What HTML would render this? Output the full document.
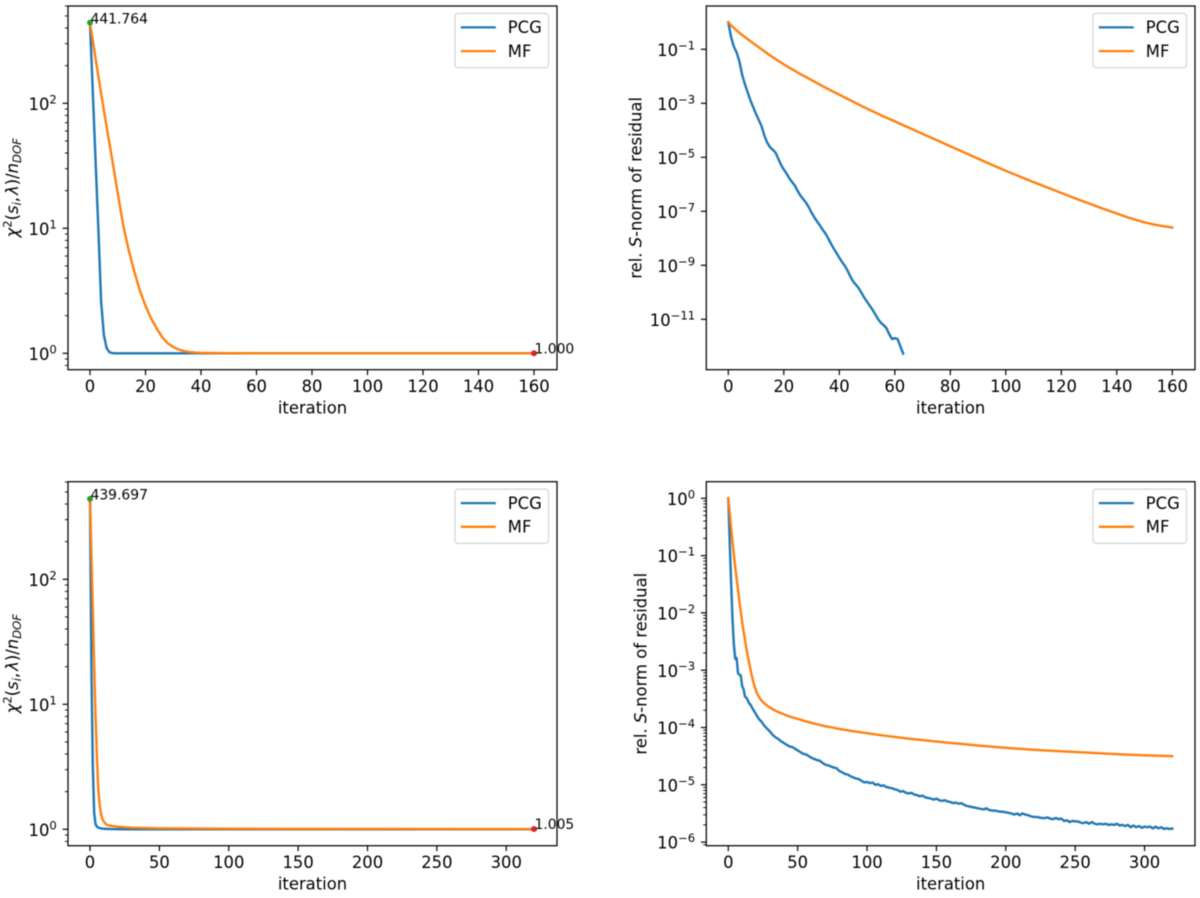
<!DOCTYPE html>
<html lang="en">
<head>
<meta charset="utf-8">
<title>Convergence charts</title>
<style>
html,body{margin:0;padding:0;background:#fff;width:1200px;height:898px;overflow:hidden}
svg{display:block;position:absolute;left:0;top:0;filter:blur(0.45px)}
text{font-family:"DejaVu Sans","Liberation Sans",sans-serif;fill:#000}
</style>
</head>
<body>
<svg id="figure" xmlns="http://www.w3.org/2000/svg" width="1200" height="898" viewBox="0 0 1200 898"></svg>
<script>
// Panel A (top left): chi-square per degree of freedom
const aTicksX = [0,20,40,60,80,100,120,140,160];
const aTicksLog = [0,1,2];
const aPcgIter = [0,1,2,3,4,5,6,7,8,9,10,12,20,40,80,160];
const aPcgChi = [441.764,124,35,10,2.6,1.4,1.1,1.02,1.005,1.001,1.0005,1.0002,1.0001,1,1,1];
const aMfIter = [0,2,4,6,8,10,12,14,16,18,20,22,24,26,28,30,32,34,36,38,40,45,50,60,80,160];
const aMfChi = [441.764,229,120,64.6,35.5,19.05,10.5,6.61,4.47,3.16,2.40,1.905,1.585,1.349,1.202,1.122,1.072,1.040,1.023,1.014,1.009,1.005,1.002,1,1,1];
const aStartValue = [0,441.764];
const aEndValue = [160,1.000];
const aStartLabel = "441.764";
const aEndLabel = "1.000";

// Panel B (top right): log10 of relative S-norm of residual
const bTicksX = [0,20,40,60,80,100,120,140,160];
const bTicksLog = [-1,-3,-5,-7,-9,-11];
const bPcgIter = [0,1,2,3,4,5,6,7,8,9,10,11,12,13,14,15,16,17,18,19,20,21,22,23,24,25,26,27,28,29,30,31,32,33,34,35,36,37,38,39,40,41,42,43,44,45,46,47,48,49,50,51,52,53,54,55,56,57,58,59,60,61,62,63];
const bPcgLog = [0,-0.55,-0.9,-1.12,-1.45,-1.95,-2.3,-2.6,-2.9,-3.15,-3.4,-3.62,-3.85,-4.2,-4.45,-4.62,-4.72,-4.82,-5.05,-5.28,-5.45,-5.6,-5.78,-5.92,-6.05,-6.25,-6.42,-6.55,-6.68,-6.85,-7.05,-7.22,-7.38,-7.52,-7.68,-7.82,-8.0,-8.2,-8.38,-8.55,-8.72,-8.88,-9.02,-9.2,-9.42,-9.6,-9.72,-9.85,-10.02,-10.2,-10.35,-10.5,-10.65,-10.82,-11,-11.13,-11.22,-11.33,-11.55,-11.73,-11.7,-11.73,-12,-12.27];
const bMfIter = [0,1,2,3,4,5,6,8,10,12,14,16,18,20,22,24,26,28,30,35,40,45,50,55,60,65,70,75,80,85,90,95,100,105,110,115,120,125,130,135,140,145,150,153,156,158,160];
const bMfLog = [0,-0.11,-0.21,-0.3,-0.39,-0.47,-0.55,-0.7,-0.85,-1.0,-1.15,-1.29,-1.43,-1.56,-1.68,-1.8,-1.92,-2.03,-2.14,-2.42,-2.68,-2.94,-3.2,-3.44,-3.67,-3.9,-4.13,-4.36,-4.59,-4.82,-5.05,-5.28,-5.5,-5.71,-5.92,-6.12,-6.32,-6.52,-6.71,-6.9,-7.08,-7.26,-7.41,-7.48,-7.54,-7.57,-7.6];

// Panel C (bottom left): chi-square per degree of freedom
const cTicksX = [0,50,100,150,200,250,300];
const cTicksLog = [0,1,2];
const cPcgIter = [0,1,2,3,4,5,6,8,10,15,20,30,50,320];
const cPcgChi = [439.697,20,3.3,1.35,1.1,1.05,1.03,1.015,1.01,1.004,1.002,1.001,1.0005,1.0];
const cMfIter = [0,1,2,3,4,5,6,7,8,9,10,12,15,20,30,50,100,150,200,320];
const cMfChi = [439.697,160,57,21,8.1,3.7,2.04,1.55,1.32,1.2,1.15,1.085,1.065,1.05,1.03,1.018,1.01,1.008,1.006,1.005];
const cStartValue = [0,439.697];
const cEndValue = [320,1.005];
const cStartLabel = "439.697";
const cEndLabel = "1.005";

// Panel D (bottom right): log10 of relative S-norm of residual
const dTicksX = [0,50,100,150,200,250,300];
const dTicksLog = [0,-1,-2,-3,-4,-5,-6];
const dPcgIter = [0,1,2,3,4,5,6,7,8,9,10,11,12,13,14,15,16,17,18,19,20,22,24,26,28,30,32,34,36,38,40,42,44,46,48,50,52,54,56,58,60,62,64,66,68,70,72,74,76,78,80,82,84,86,88,90,92,94,96,98,100,102,104,106,108,110,112,114,116,118,120,122,124,126,128,130,132,134,136,138,140,142,144,146,148,150,152,154,156,158,160,162,164,166,168,170,172,174,176,178,180,182,184,186,188,190,192,194,196,198,200,202,204,206,208,210,212,214,216,218,220,222,224,226,228,230,232,234,236,238,240,242,244,246,248,250,252,254,256,258,260,262,264,266,268,270,272,274,276,278,280,282,284,286,288,290,292,294,296,298,300,302,304,306,308,310,312,314,316,318,320];
const dPcgLog = [0,-0.75,-1.45,-2.1,-2.55,-2.8,-2.79,-3.05,-3.08,-3.09,-3.28,-3.33,-3.46,-3.48,-3.52,-3.58,-3.6,-3.65,-3.69,-3.73,-3.77,-3.85,-3.9,-3.97,-4.02,-4.07,-4.13,-4.17,-4.2,-4.24,-4.27,-4.3,-4.33,-4.34,-4.37,-4.4,-4.43,-4.46,-4.47,-4.5,-4.53,-4.55,-4.57,-4.58,-4.62,-4.65,-4.66,-4.68,-4.7,-4.71,-4.76,-4.78,-4.81,-4.82,-4.85,-4.87,-4.89,-4.9,-4.93,-4.96,-4.95,-4.97,-4.96,-5.0,-4.99,-5.02,-5.01,-5.04,-5.05,-5.06,-5.08,-5.09,-5.12,-5.11,-5.14,-5.15,-5.14,-5.17,-5.18,-5.2,-5.19,-5.22,-5.23,-5.24,-5.26,-5.24,-5.27,-5.28,-5.27,-5.29,-5.3,-5.32,-5.31,-5.33,-5.32,-5.35,-5.37,-5.38,-5.39,-5.4,-5.41,-5.42,-5.43,-5.41,-5.44,-5.45,-5.45,-5.46,-5.47,-5.47,-5.48,-5.49,-5.5,-5.52,-5.5,-5.53,-5.5,-5.52,-5.53,-5.55,-5.56,-5.56,-5.57,-5.58,-5.58,-5.57,-5.59,-5.6,-5.58,-5.6,-5.59,-5.63,-5.62,-5.65,-5.63,-5.64,-5.64,-5.66,-5.67,-5.65,-5.68,-5.65,-5.68,-5.69,-5.68,-5.69,-5.68,-5.7,-5.69,-5.7,-5.68,-5.71,-5.7,-5.72,-5.7,-5.74,-5.71,-5.74,-5.72,-5.75,-5.73,-5.74,-5.73,-5.76,-5.73,-5.76,-5.74,-5.77,-5.76,-5.77,-5.765];
const dMfIter = [0,1,2,3,4,5,6,7,8,9,10,11,12,13,14,15,16,17,18,19,20,21,22,23,24,26,28,30,33,36,40,45,50,55,60,65,70,75,80,90,100,110,120,130,140,150,160,170,180,190,200,220,240,260,280,300,320];
const dMfLog = [0,-0.25,-0.5,-0.75,-0.98,-1.2,-1.4,-1.6,-1.8,-1.98,-2.16,-2.32,-2.47,-2.62,-2.75,-2.87,-2.99,-3.1,-3.2,-3.29,-3.36,-3.42,-3.46,-3.5,-3.53,-3.58,-3.62,-3.65,-3.695,-3.73,-3.77,-3.815,-3.85,-3.885,-3.92,-3.95,-3.98,-4.0,-4.025,-4.065,-4.1,-4.135,-4.165,-4.195,-4.22,-4.245,-4.27,-4.29,-4.315,-4.335,-4.355,-4.39,-4.415,-4.44,-4.465,-4.485,-4.5];

const seriesNames = ["PCG","MF"];
const xAxisTitle = "iteration";

const NS = "http://www.w3.org/2000/svg";
const figure = document.getElementById("figure");
const BLUE = "#1f77b4", ORANGE = "#ff7f0e", GREEN = "#2ca02c", RED = "#d62728";
const TICK_FONT = 16.4, NOTE_FONT = 13.9, SMALL_FONT = 11.6;

function mk(parent, tag, attrs, txt) {
  const el = document.createElementNS(NS, tag);
  for (const k in attrs) el.setAttribute(k, attrs[k]);
  if (txt !== undefined) el.textContent = txt;
  parent.appendChild(el);
  return el;
}
function toPow(list) { return list.map(function (v) { return Math.pow(10, v); }); }

function drawPanel(p) {
  const xs = function (v) { return p.x0 + v * p.xUnit; };
  const ys = function (v) { return p.y0 - Math.log10(v) * p.decade; };

  const g = mk(figure, "g", {});
  
  

  // series
  p.series.forEach(function (s, i) {
    const d = s.iter.map(function (it, j) { return (j ? "L" : "M") + xs(it).toFixed(2) + " " + ys(s.vals[j]).toFixed(2); }).join("");
    const line = mk(g, "path", { d: d, fill: "none", stroke: s.color, "stroke-width": 2.4, "stroke-linejoin": "round", "stroke-linecap": "square" });
    
    
  });

  // point markers and notes
  if (p.start) {
    const m1 = mk(g, "circle", { cx: xs(p.start[0]), cy: ys(p.start[1]), r: 3, fill: GREEN });
    
    
    const m2 = mk(g, "circle", { cx: xs(p.end[0]), cy: ys(p.end[1]), r: 3, fill: RED });
    
    
    const n1 = mk(g, "text", { x: xs(p.start[0]) + 0.5, y: ys(p.start[1]) + 0.6, "font-size": NOTE_FONT }, p.startLabel);
    
    
    const n2 = mk(g, "text", { x: xs(p.end[0]) + 0.5, y: ys(p.end[1]) + 0.2, "font-size": NOTE_FONT }, p.endLabel);
    
    
  }

  // spines
  const frame = mk(g, "rect", { x: p.left, y: p.top, width: p.right - p.left, height: p.bottom - p.top, fill: "none", stroke: "#000", "stroke-width": 1.25 });
  
  

  // x ticks
  p.ticksX.forEach(function (t) {
    const tick = mk(g, "line", { x1: xs(t), x2: xs(t), y1: p.bottom, y2: p.bottom + 5.4, stroke: "#000", "stroke-width": 1.2 });
    
    
    const label = mk(g, "text", { x: xs(t), y: p.bottom + 22.3, "font-size": TICK_FONT, "text-anchor": "middle" }, String(t));
    
    
  });
  const xt = mk(g, "text", { x: (p.left + p.right) / 2, y: p.bottom + 43.6, "font-size": TICK_FONT, "text-anchor": "middle" }, xAxisTitle);
  
  

  // y ticks
  p.ticksLog.forEach(function (e) {
    const py = ys(Math.pow(10, e));
    const tick = mk(g, "line", { x1: p.left - 5.4, x2: p.left, y1: py, y2: py, stroke: "#000", "stroke-width": 1.2 });
    
    
    const label = mk(g, "text", { x: p.left - 11.2, y: py + 6.6, "font-size": TICK_FONT, "text-anchor": "end" }, "10");
    
    
    const sup = mk(label, "tspan", { dy: -6.6, "font-size": SMALL_FONT }, String(e).replace("-", "\u2212"));
    
    
  });
  if (p.minor) {
    const lo = Math.floor((p.y0 - p.bottom) / p.decade), hi = Math.ceil((p.y0 - p.top) / p.decade);
    for (let e = lo; e <= hi; e++) {
      for (let k = 2; k < 10; k++) {
        const py = ys(k * Math.pow(10, e));
        if (py < p.top || py > p.bottom) continue;
        const mt = mk(g, "line", { x1: p.left - 3.1, x2: p.left, y1: py, y2: py, stroke: "#000", "stroke-width": 0.9 });
        
        
      }
    }
  }

  // y title
  const cy = (p.top + p.bottom) / 2;
  const yt = mk(g, "text", { x: p.labelX, y: cy, "font-size": TICK_FONT, "text-anchor": "middle", transform: "rotate(-90 " + p.labelX + " " + cy + ")" });
  
  
  p.label.forEach(function (part) {
    const ts = mk(yt, "tspan", { "font-style": part.i ? "italic" : "normal", "font-size": part.s || TICK_FONT, dy: part.dy || 0, dx: part.dx || 0 }, part.t);
    
    
  });

  // legend
  const lx = p.right - 102, ly = p.top + 7.4;
  const leg = mk(g, "g", {});
  
  
  const box = mk(leg, "rect", { x: lx, y: ly, width: 93.5, height: 54.3, rx: 3, ry: 3, fill: "#fff", stroke: "#d4d4d4", "stroke-width": 1.2 });
  
  
  seriesNames.forEach(function (nm, i) {
    const rowY = ly + 14 + i * 23.7;
    const sw = mk(leg, "line", { x1: lx + 5.8, x2: lx + 40.8, y1: rowY, y2: rowY, stroke: i ? ORANGE : BLUE, "stroke-width": 2.3 });
    
    
    const tx = mk(leg, "text", { x: lx + 52.8, y: rowY + 5.8, "font-size": TICK_FONT }, nm);
    
    
  });
}

const chiLabel = [
  { t: "\u03C7", i: true },
  { t: "2", s: SMALL_FONT, dy: -6.4 },
  { t: "(", dy: 6.4 },
  { t: "s", i: true },
  { t: "i", i: true, s: SMALL_FONT, dy: 3 },
  { t: ",", dy: -3 },
  { t: "\u03BB", i: true, dx: 2 },
  { t: ")/" },
  { t: "n", i: true },
  { t: "DOF", i: true, s: SMALL_FONT, dy: 3 }
];
const normLabel = [
  { t: "rel. " },
  { t: "S", i: true },
  { t: "-norm of residual" }
];

drawPanel({
  name: "chi-square-panel-top", left: 68, right: 557, top: 6, bottom: 369.7,
  x0: 90, xUnit: 2.775, y0: 353.3, decade: 125, minor: true, labelX: 18,
  ticksX: aTicksX, ticksLog: aTicksLog, label: chiLabel,
  series: [{ iter: aPcgIter, vals: aPcgChi, color: BLUE }, { iter: aMfIter, vals: aMfChi, color: ORANGE }],
  start: aStartValue, end: aEndValue, startLabel: aStartLabel, endLabel: aEndLabel
});
drawPanel({
  name: "residual-panel-top", left: 706.3, right: 1195, top: 6, bottom: 369.7,
  x0: 728.3, xUnit: 2.775, y0: 22.3, decade: 27, minor: false, labelX: 641.7,
  ticksX: bTicksX, ticksLog: bTicksLog, label: normLabel,
  series: [{ iter: bPcgIter, vals: toPow(bPcgLog), color: BLUE }, { iter: bMfIter, vals: toPow(bMfLog), color: ORANGE }]
});
drawPanel({
  name: "chi-square-panel-bottom", left: 68, right: 557, top: 481.7, bottom: 845.7,
  x0: 90, xUnit: 1.3875, y0: 829.3, decade: 125, minor: true, labelX: 18,
  ticksX: cTicksX, ticksLog: cTicksLog, label: chiLabel,
  series: [{ iter: cPcgIter, vals: cPcgChi, color: BLUE }, { iter: cMfIter, vals: cMfChi, color: ORANGE }],
  start: cStartValue, end: cEndValue, startLabel: cStartLabel, endLabel: cEndLabel
});
drawPanel({
  name: "residual-panel-bottom", left: 706.3, right: 1195, top: 481.7, bottom: 845.7,
  x0: 728.3, xUnit: 1.3875, y0: 498.3, decade: 57.3, minor: true, labelX: 646.7,
  ticksX: dTicksX, ticksLog: dTicksLog, label: normLabel,
  series: [{ iter: dPcgIter, vals: toPow(dPcgLog), color: BLUE }, { iter: dMfIter, vals: toPow(dMfLog), color: ORANGE }]
});
</script>
</body>
</html>
